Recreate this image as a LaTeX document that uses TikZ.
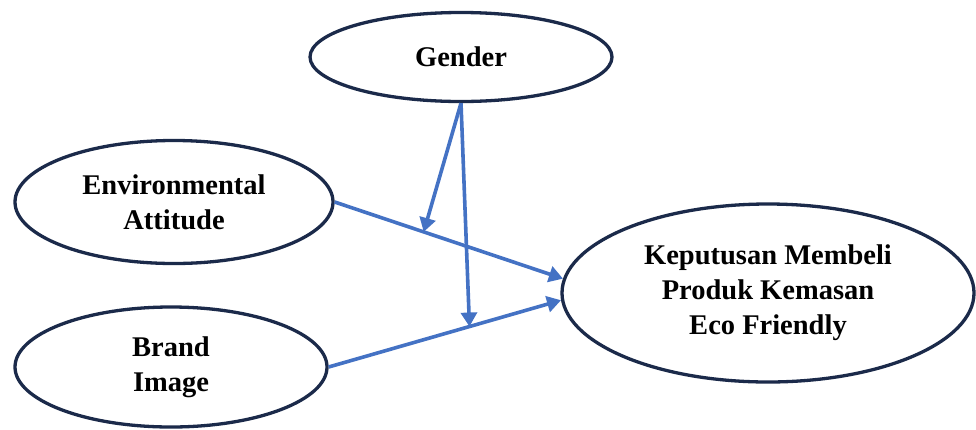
\documentclass[tikz,border=0pt]{standalone}
\usepackage{fontspec}
\setmainfont{Liberation Serif}
\usetikzlibrary{shapes.geometric,arrows.meta}
\definecolor{ringcol}{HTML}{1B2A4A}
\definecolor{arrcol}{HTML}{4472C4}
\tikzset{
  varnode/.style={ellipse, draw=ringcol, line width=3.3pt, inner sep=0pt, align=center,
    font=\fontsize{28.5}{35}\selectfont\bfseries},
  arr/.style={draw=arrcol, line width=3.6pt, -{Triangle[length=14pt,width=16pt]}}
}
\begin{document}
\begin{tikzpicture}[x=1pt,y=-1pt]
\useasboundingbox (0,0) rectangle (976,429);
\node[varnode, minimum width=302pt, minimum height=89pt] (gender) at (461,57) {Gender};
\node[varnode, minimum width=318pt, minimum height=123pt] (env) at (174,202) {Environmental\\Attitude};
\node[varnode, minimum width=312pt, minimum height=120pt] (brand) at (171,367) {Brand\\Image};
\node[varnode, minimum width=412pt, minimum height=178pt] (kep) at (768,293) {Keputusan Membeli\\Produk Kemasan\\Eco Friendly};
\draw[arr] (env.east) -- (kep.176) coordinate[pos=0.39] (m1);
\draw[arr] (brand.east) -- (kep.182) coordinate[pos=0.606] (m2);
\draw[arr] (gender.south) -- (m1);
\draw[arr] (gender.south) -- (m2);
\end{tikzpicture}
\end{document}
